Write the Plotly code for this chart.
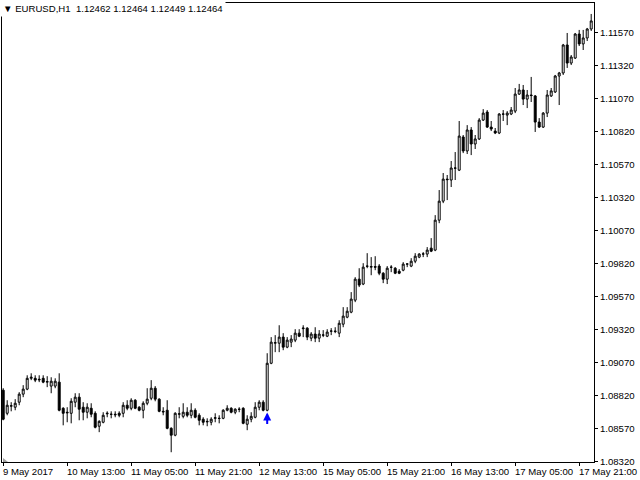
import plotly.graph_objects as go

# ---- data (EURUSD H1, one candle per hour) ----
opens = [
    1.08859, 1.08684, 1.08738, 1.08730, 1.08768, 1.08829, 1.08867, 1.08949, 1.08949, 1.08942,
    1.08949, 1.08920, 1.08890, 1.08890, 1.08920, 1.08722, 1.08692, 1.08684, 1.08768, 1.08806,
    1.08730, 1.08692, 1.08722, 1.08684, 1.08586, 1.08616, 1.08680, 1.08677, 1.08677, 1.08684,
    1.08684, 1.08745, 1.08722, 1.08783, 1.08730, 1.08707, 1.08760, 1.08798, 1.08874, 1.08791,
    1.08699, 1.08707, 1.08570, 1.08518, 1.08677, 1.08661, 1.08692, 1.08669, 1.08707, 1.08669,
    1.08639, 1.08623, 1.08616, 1.08646, 1.08646, 1.08646, 1.08707, 1.08722, 1.08692, 1.08715,
    1.08722, 1.08601, 1.08639, 1.08654, 1.08730, 1.08768, 1.08707, 1.09063, 1.09215, 1.09215,
    1.09261, 1.09185, 1.09223, 1.09238, 1.09291, 1.09325, 1.09329, 1.09253, 1.09284, 1.09253,
    1.09276, 1.09268, 1.09306, 1.09303, 1.09291, 1.09359, 1.09412, 1.09450, 1.09541, 1.09700,
    1.09663, 1.09799, 1.09791, 1.09795, 1.09799, 1.09745, 1.09700, 1.09791, 1.09783, 1.09760,
    1.09768, 1.09814, 1.09799, 1.09836, 1.09867, 1.09890, 1.09890, 1.09935, 1.09920, 1.10147,
    1.10291, 1.10458, 1.10451, 1.10542, 1.10526, 1.10777, 1.10671, 1.10830, 1.10724, 1.10762,
    1.10905, 1.10966, 1.10852, 1.10822, 1.10807, 1.10951, 1.10943, 1.10951, 1.10973, 1.11102,
    1.11133, 1.11064, 1.11095, 1.11088, 1.10890, 1.10852, 1.10958, 1.11088, 1.11118, 1.11239,
    1.11262, 1.11474, 1.11337, 1.11375, 1.11557, 1.11482, 1.11527, 1.11595,
]
highs = [
    1.08874, 1.08783, 1.08768, 1.08791, 1.08844, 1.08897, 1.08972, 1.08987, 1.08972, 1.08972,
    1.08972, 1.08965, 1.08957, 1.08949, 1.08987, 1.08730, 1.08730, 1.08798, 1.08836, 1.08836,
    1.08768, 1.08760, 1.08760, 1.08699, 1.08631, 1.08692, 1.08699, 1.08699, 1.08699, 1.08699,
    1.08768, 1.08783, 1.08798, 1.08791, 1.08738, 1.08775, 1.08874, 1.08935, 1.08890, 1.08798,
    1.08730, 1.08783, 1.08578, 1.08692, 1.08730, 1.08760, 1.08730, 1.08760, 1.08722, 1.08684,
    1.08654, 1.08646, 1.08654, 1.08684, 1.08669, 1.08715, 1.08745, 1.08730, 1.08722, 1.08730,
    1.08730, 1.08669, 1.08692, 1.08768, 1.08783, 1.08783, 1.09139, 1.09261, 1.09276, 1.09351,
    1.09291, 1.09261, 1.09276, 1.09321, 1.09321, 1.09351, 1.09336, 1.09299, 1.09336, 1.09314,
    1.09314, 1.09321, 1.09329, 1.09336, 1.09389, 1.09488, 1.09488, 1.09602, 1.09715, 1.09783,
    1.09821, 1.09897, 1.09867, 1.09874, 1.09814, 1.09753, 1.09799, 1.09806, 1.09791, 1.09776,
    1.09829, 1.09821, 1.09859, 1.09897, 1.09897, 1.09905, 1.09943, 1.10011, 1.10185, 1.10375,
    1.10504, 1.10489, 1.10595, 1.10663, 1.10898, 1.10792, 1.10867, 1.10852, 1.10792, 1.10920,
    1.10988, 1.10981, 1.10898, 1.10845, 1.10958, 1.10981, 1.10973, 1.11004, 1.11148, 1.11179,
    1.11171, 1.11133, 1.11232, 1.11095, 1.10920, 1.10966, 1.11133, 1.11148, 1.11247, 1.11270,
    1.11482, 1.11565, 1.11398, 1.11565, 1.11588, 1.11588, 1.11603, 1.11709,
]
lows = [
    1.08631, 1.08669, 1.08699, 1.08707, 1.08745, 1.08806, 1.08859, 1.08935, 1.08920, 1.08920,
    1.08912, 1.08882, 1.08836, 1.08874, 1.08699, 1.08593, 1.08616, 1.08608, 1.08730, 1.08631,
    1.08631, 1.08646, 1.08654, 1.08570, 1.08541, 1.08608, 1.08654, 1.08646, 1.08654, 1.08654,
    1.08654, 1.08707, 1.08707, 1.08715, 1.08699, 1.08646, 1.08745, 1.08783, 1.08775, 1.08692,
    1.08669, 1.08563, 1.08389, 1.08510, 1.08646, 1.08646, 1.08654, 1.08646, 1.08646, 1.08593,
    1.08593, 1.08586, 1.08593, 1.08616, 1.08608, 1.08639, 1.08699, 1.08684, 1.08677, 1.08692,
    1.08601, 1.08556, 1.08616, 1.08646, 1.08707, 1.08699, 1.08699, 1.09056, 1.09147, 1.09147,
    1.09162, 1.09177, 1.09185, 1.09223, 1.09261, 1.09261, 1.09238, 1.09230, 1.09223, 1.09223,
    1.09261, 1.09261, 1.09276, 1.09291, 1.09261, 1.09336, 1.09404, 1.09442, 1.09526, 1.09640,
    1.09655, 1.09783, 1.09730, 1.09768, 1.09730, 1.09670, 1.09663, 1.09753, 1.09738, 1.09738,
    1.09760, 1.09791, 1.09791, 1.09821, 1.09859, 1.09867, 1.09867, 1.09905, 1.09912, 1.10124,
    1.10276, 1.10299, 1.10398, 1.10451, 1.10519, 1.10655, 1.10648, 1.10640, 1.10686, 1.10754,
    1.10898, 1.10845, 1.10822, 1.10799, 1.10799, 1.10898, 1.10867, 1.10943, 1.10958, 1.11095,
    1.11019, 1.10996, 1.11042, 1.10815, 1.10845, 1.10845, 1.10928, 1.11080, 1.11110, 1.11019,
    1.11247, 1.11300, 1.11322, 1.11368, 1.11466, 1.11436, 1.11504, 1.11580,
]
closes = [
    1.08639, 1.08745, 1.08741, 1.08760, 1.08829, 1.08867, 1.08949, 1.08957, 1.08935, 1.08938,
    1.08920, 1.08924, 1.08927, 1.08927, 1.08707, 1.08684, 1.08688, 1.08775, 1.08806, 1.08715,
    1.08692, 1.08730, 1.08677, 1.08578, 1.08623, 1.08669, 1.08684, 1.08676, 1.08673, 1.08669,
    1.08745, 1.08722, 1.08783, 1.08722, 1.08707, 1.08760, 1.08791, 1.08874, 1.08791, 1.08699,
    1.08695, 1.08570, 1.08518, 1.08684, 1.08680, 1.08692, 1.08669, 1.08707, 1.08654, 1.08631,
    1.08616, 1.08620, 1.08639, 1.08650, 1.08645, 1.08707, 1.08722, 1.08692, 1.08715, 1.08714,
    1.08608, 1.08639, 1.08661, 1.08730, 1.08768, 1.08707, 1.09063, 1.09223, 1.09219, 1.09261,
    1.09185, 1.09238, 1.09246, 1.09291, 1.09268, 1.09329, 1.09261, 1.09284, 1.09253, 1.09284,
    1.09277, 1.09299, 1.09307, 1.09306, 1.09366, 1.09420, 1.09457, 1.09549, 1.09700, 1.09655,
    1.09791, 1.09798, 1.09795, 1.09791, 1.09745, 1.09700, 1.09783, 1.09790, 1.09745, 1.09745,
    1.09814, 1.09815, 1.09836, 1.09874, 1.09890, 1.09891, 1.09920, 1.09912, 1.10147, 1.10291,
    1.10458, 1.10454, 1.10542, 1.10541, 1.10784, 1.10671, 1.10830, 1.10724, 1.10762, 1.10905,
    1.10958, 1.10852, 1.10837, 1.10807, 1.10951, 1.10950, 1.10958, 1.10981, 1.11102, 1.11133,
    1.11064, 1.11095, 1.11091, 1.10890, 1.10852, 1.10958, 1.11095, 1.11126, 1.11239, 1.11262,
    1.11474, 1.11337, 1.11383, 1.11557, 1.11482, 1.11527, 1.11595, 1.11656,
]

# time-axis labels (bar index -> label)
tick_bars = [0, 16, 32, 48, 64, 80, 96, 112, 128, 144]
tick_labels = ["9 May 2017", "10 May 13:00", "11 May 05:00", "11 May 21:00",
               "12 May 13:00", "15 May 05:00", "15 May 21:00", "16 May 13:00",
               "17 May 05:00", "17 May 21:00"]

# price-axis ticks
price_ticks = [1.08320, 1.08570, 1.08820, 1.09070, 1.09320, 1.09570, 1.09820,
               1.10070, 1.10320, 1.10570, 1.10820, 1.11070, 1.11320, 1.11570]

# buy-signal arrow
signal_bar = 66
signal_price = 1.08690

header = "▼ EURUSD,H1\u00a0\u00a01.12462 1.12464 1.12449 1.12464"

FONT = "Liberation Sans"
FS = 9.6

bars = list(range(len(opens)))

fig = go.Figure()
fig.add_trace(go.Candlestick(
    x=bars, open=opens, high=highs, low=lows, close=closes,
    increasing=dict(line=dict(color="black", width=1), fillcolor="white"),
    decreasing=dict(line=dict(color="black", width=1), fillcolor="black"),
    whiskerwidth=0, hoverinfo="skip", showlegend=False,
))

fig.add_annotation(
    x=signal_bar, y=signal_price, xref="x", yref="y",
    ax=0, ay=13, showarrow=True, arrowhead=2, arrowsize=0.8, arrowwidth=2,
    arrowcolor="#0000ff", text="",
)

for b, lab in zip(tick_bars, tick_labels):
    fig.add_annotation(
        x=b, y=0, xref="x", yref="paper", xanchor="left", yanchor="top",
        text=lab, showarrow=False, xshift=-2, yshift=-2,
        font=dict(family=FONT, size=FS, color="black"),
    )

fig.add_annotation(
    x=0, y=1, xref="paper", yref="paper", xanchor="left", yanchor="top",
    text=header, showarrow=False, bgcolor="white", xshift=-2, yshift=3,
    font=dict(family=FONT, size=FS, color="black"), borderpad=2,
)

fig.add_shape(type="path", xref="paper", yref="paper",
              path="M 0.0017,0 L 0.0101,0 L 0.0017,0.0087 Z",
              fillcolor="#a0a0a0", line=dict(width=0))

fig.update_layout(
    width=640, height=480,
    margin=dict(l=2, r=46, t=3, b=18, autoexpand=False),
    paper_bgcolor="white", plot_bgcolor="white",
    font=dict(family=FONT, size=FS, color="black"),
    showlegend=False,
    xaxis=dict(
        range=[-0.3, 147.7], rangeslider=dict(visible=False),
        automargin=False,
        showgrid=False, zeroline=False,
        showline=True, linecolor="black", linewidth=1, mirror=True,
        tickvals=tick_bars, ticktext=[""] * len(tick_bars),
        ticks="outside", ticklen=3, tickcolor="black", tickwidth=1,
    ),
    yaxis=dict(
        side="right", range=[1.08315, 1.11792], automargin=False,
        showgrid=False, zeroline=False,
        showline=True, linecolor="black", linewidth=1, mirror=True,
        tickvals=price_ticks, tickformat=".5f",
        ticks="outside", ticklen=3, tickcolor="black", tickwidth=1,
        tickfont=dict(family=FONT, size=FS, color="black"),
    ),
)

fig.write_html(
    "out.html",
    config={"displayModeBar": False},
    post_script="document.body.style.margin='0px';document.body.style.overflow='hidden';",
)
